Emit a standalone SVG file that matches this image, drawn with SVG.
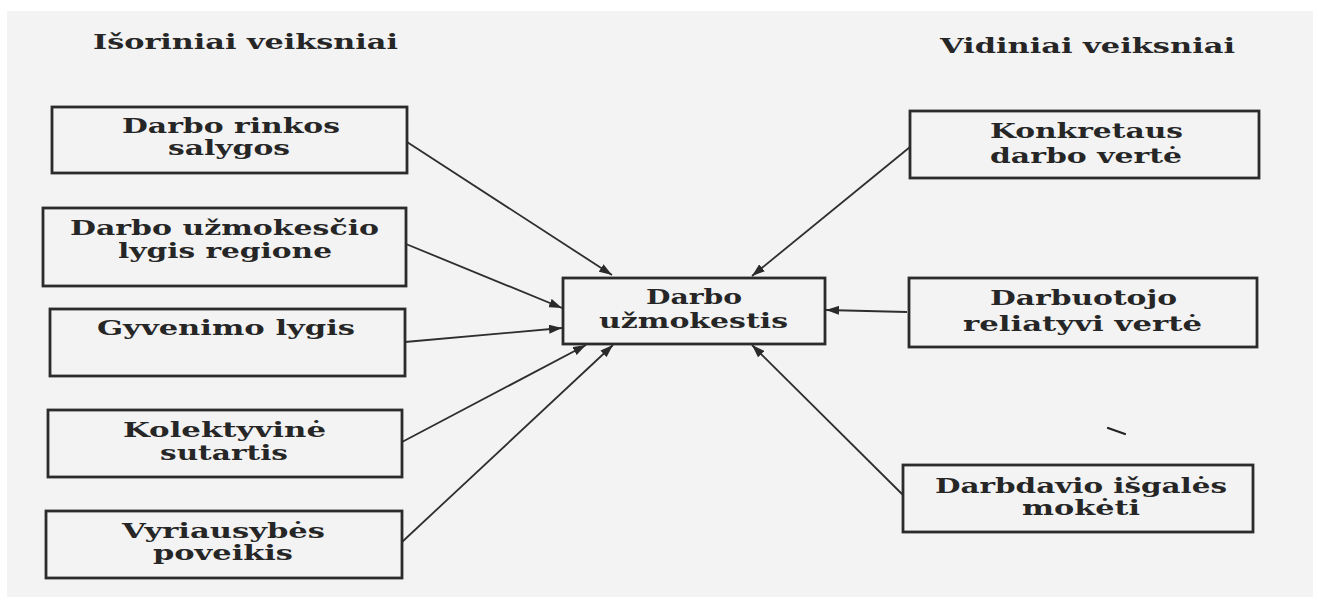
<svg xmlns="http://www.w3.org/2000/svg" width="1318" height="600" viewBox="0 0 1318 600">
<style>
.box{fill:#f3f3f3;stroke:#2b2b2b;stroke-width:2.8}
.t{font-family:"DejaVu Serif","Liberation Serif",serif;font-weight:bold;font-size:20px;fill:#262626}
.h{font-family:"DejaVu Serif","Liberation Serif",serif;font-weight:bold;font-size:20px;fill:#262626}
.c{stroke:#2e2e2e;stroke-width:1.8;fill:none;marker-end:url(#ah)}
</style>
<defs>
<marker id="ah" viewBox="0 0 13 9" refX="13" refY="4.5" markerWidth="13" markerHeight="9" markerUnits="userSpaceOnUse" orient="auto">
<path d="M0,0 L13,4.5 L0,9 z" fill="#2a2a2a"/>
</marker>
</defs>
<rect x="0" y="0" width="1318" height="600" fill="#ffffff"/>
<rect x="7" y="11" width="1306" height="586" fill="#f3f3f3"/>

<g id="title-left"><text class="h" x="93" y="49" textLength="305" lengthAdjust="spacingAndGlyphs">Išoriniai veiksniai</text></g>
<g id="title-right"><text class="h" x="940" y="53" textLength="295" lengthAdjust="spacingAndGlyphs">Vidiniai veiksniai</text></g>

<g id="connectors">
<line class="c" x1="407" y1="142" x2="612" y2="275"/>
<line class="c" x1="406" y1="244" x2="562" y2="308"/>
<line class="c" x1="405" y1="342" x2="562" y2="328"/>
<line class="c" x1="402" y1="442" x2="586" y2="345"/>
<line class="c" x1="402" y1="542" x2="613" y2="345"/>
<line class="c" x1="910" y1="147" x2="752" y2="276"/>
<line class="c" x1="907" y1="312" x2="826" y2="310"/>
<line class="c" x1="903" y1="495" x2="752" y2="345"/>
</g>

<g id="n1">
<rect class="box" x="52" y="107" width="355" height="66"/>
<text class="t" x="122" y="133" textLength="218" lengthAdjust="spacingAndGlyphs">Darbo rinkos</text>
<text class="t" x="168" y="155" textLength="122" lengthAdjust="spacingAndGlyphs">salygos</text>
</g>
<g id="n2">
<rect class="box" x="43" y="208" width="363" height="78"/>
<text class="t" x="70" y="235" textLength="309" lengthAdjust="spacingAndGlyphs">Darbo užmokesčio</text>
<text class="t" x="118" y="258" textLength="214" lengthAdjust="spacingAndGlyphs">lygis regione</text>
</g>
<g id="n3">
<rect class="box" x="50" y="309" width="355" height="67"/>
<text class="t" x="97" y="335" textLength="258" lengthAdjust="spacingAndGlyphs">Gyvenimo lygis</text>
</g>
<g id="n4">
<rect class="box" x="48" y="410" width="354" height="67"/>
<text class="t" x="123" y="437" textLength="203" lengthAdjust="spacingAndGlyphs">Kolektyvinė</text>
<text class="t" x="160" y="460" textLength="128" lengthAdjust="spacingAndGlyphs">sutartis</text>
</g>
<g id="n5">
<rect class="box" x="46" y="511" width="356" height="67"/>
<text class="t" x="122" y="538" textLength="203" lengthAdjust="spacingAndGlyphs">Vyriausybės</text>
<text class="t" x="153" y="560" textLength="140" lengthAdjust="spacingAndGlyphs">poveikis</text>
</g>
<g id="center">
<rect class="box" x="563" y="278" width="262" height="66"/>
<text class="t" x="646" y="304" textLength="96" lengthAdjust="spacingAndGlyphs">Darbo</text>
<text class="t" x="599" y="328" textLength="189" lengthAdjust="spacingAndGlyphs">užmokestis</text>
</g>
<g id="r1">
<rect class="box" x="910" y="111" width="349" height="67"/>
<text class="t" x="990" y="138" textLength="193" lengthAdjust="spacingAndGlyphs">Konkretaus</text>
<text class="t" x="990" y="163" textLength="192" lengthAdjust="spacingAndGlyphs">darbo vertė</text>
</g>
<g id="r2">
<rect class="box" x="909" y="278" width="348" height="69"/>
<text class="t" x="990" y="305" textLength="187" lengthAdjust="spacingAndGlyphs">Darbuotojo</text>
<text class="t" x="963" y="331" textLength="239" lengthAdjust="spacingAndGlyphs">reliatyvi vertė</text>
</g>
<g id="r3">
<rect class="box" x="903" y="465" width="350" height="67"/>
<text class="t" x="935" y="493" textLength="292" lengthAdjust="spacingAndGlyphs">Darbdavio išgalės</text>
<text class="t" x="1022" y="515" textLength="118" lengthAdjust="spacingAndGlyphs">mokėti</text>
</g>
<path d="M1108,428 L1125,434" stroke="#222" stroke-width="2.2" stroke-linecap="round"/>
</svg>
